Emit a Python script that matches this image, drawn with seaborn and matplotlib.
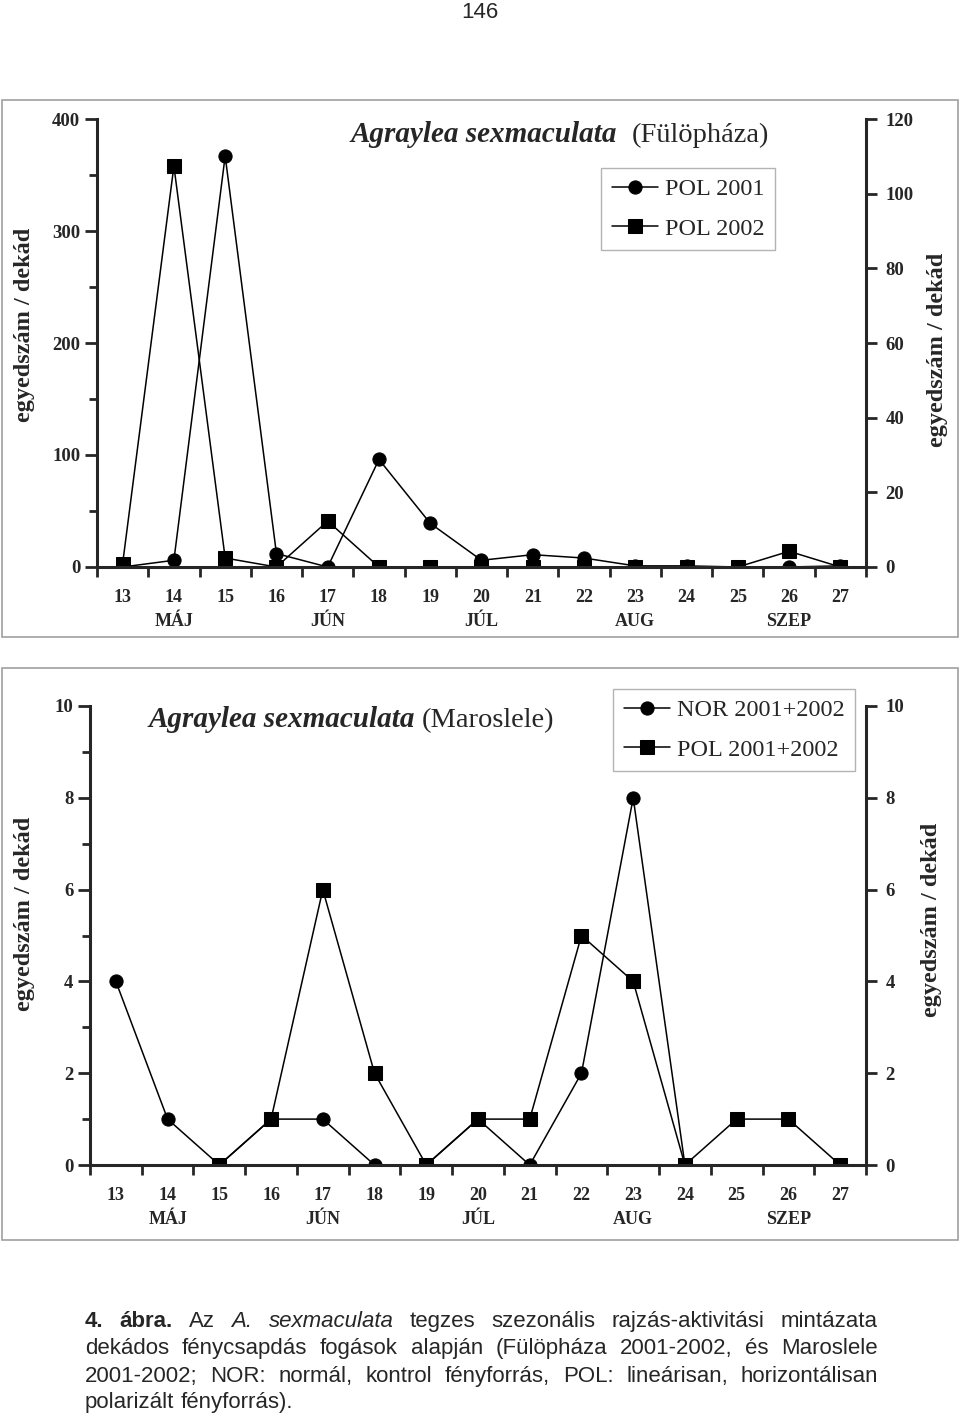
import numpy as np
import pandas as pd
import seaborn as sns
import matplotlib.pyplot as plt
from matplotlib.patches import Rectangle
from matplotlib.ticker import MultipleLocator

sns.set_style('ticks')
plt.rcParams['font.family'] = ['Liberation Serif', 'DejaVu Serif']
plt.rcParams['font.weight'] = 'bold'
plt.rcParams['axes.unicode_minus'] = False

dekad = list(range(13, 28))
honap = {14: 'MÁJ', 17: 'JÚN', 20: 'JÚL', 23: 'AUG', 26: 'SZEP'}

# Fülöpháza, POL csapda
fulop_2001 = [0, 6, 367, 12, 0, 96, 39, 6, 11, 8, 1, 1, 0, 0, 1]
fulop_2002 = [3, 358, 8, 0, 41, 0, 0, 0, 0, 0, 0, 0, 0, 14, 0]

# Maroslele
maros_nor = [4, 1, 0, 1, 1, 0, 0, 1, 0, 2, 8, 0, np.nan, np.nan, np.nan]
maros_pol = [np.nan, np.nan, 0, 1, 6, 2, 0, 1, 1, 5, 4, 0, 1, 1, 0]

W, H = 960, 1416
fig = plt.figure(figsize=(W / 100, H / 100), dpi=100)


def fx(px):
    return px / W


def fy(py):
    return 1 - py / H


def long_df(series):
    parts = []
    for name, vals in series.items():
        parts.append(pd.DataFrame({'dekad': dekad, 'db': vals, 'sorozat': name}))
    return pd.concat(parts, ignore_index=True)


def panel(left, right, bottom, top, df, ymax, ystep, yminor, y2max, y2step,
          legend_xy):
    ax = fig.add_axes([fx(left), fy(bottom), fx(right - left), (bottom - top) / H])
    sns.lineplot(data=df, x='dekad', y='db', style='sorozat', markers=['o', 's'],
                 dashes=False, color='black', linewidth=1.1, markersize=9.5,
                 markeredgecolor='black', errorbar=None, legend=False, ax=ax)
    ax.set_xlim(12.5, 27.5)
    ax.set_ylim(0, ymax)
    ax.set_xlabel('')
    ax.set_ylabel('')

    # kategória-határokon a jelölők, a címkék a dekádok alatt
    ax.set_xticks(np.arange(12.5, 28, 1))
    ax.set_xticks(dekad, minor=True)
    ax.set_xticklabels([f'{d}\n{honap[d]}' if d in honap else str(d) for d in dekad],
                       minor=True)
    for lab in ax.get_xticklabels(minor=True):
        lab.set_linespacing(1.5)
    ax.tick_params(axis='x', which='major', labelbottom=False, direction='out',
                   length=7, width=2)
    ax.tick_params(axis='x', which='minor', length=0, pad=16, labelsize=13)

    ax.set_yticks(np.arange(0, ymax + 1, ystep))
    ax.yaxis.set_minor_locator(MultipleLocator(yminor))
    ax.tick_params(axis='y', which='major', direction='out', length=9, width=2,
                   pad=3, labelsize=13.5)
    ax.tick_params(axis='y', which='minor', direction='out', length=6, width=2)

    for s in ['top', 'right']:
        ax.spines[s].set_visible(False)
    for s in ['left', 'bottom']:
        ax.spines[s].set_linewidth(2.2)

    ax2 = ax.twinx()
    ax2.set_ylim(0, y2max)
    ax2.set_yticks(np.arange(0, y2max + 1, y2step))
    ax2.tick_params(axis='y', direction='out', length=8, width=2, pad=6,
                    labelsize=13.5)
    for s in ['top', 'left', 'bottom']:
        ax2.spines[s].set_visible(False)
    ax2.spines['right'].set_linewidth(2.2)

    labels = df['sorozat'].unique()
    leg = ax2.legend(handles=ax.lines[:2], labels=list(labels), loc='upper right',
                     bbox_to_anchor=(fx(legend_xy[0]), fy(legend_xy[1])),
                     bbox_transform=fig.transFigure, borderaxespad=0,
                     frameon=True, fancybox=False, edgecolor='#a0a0a0',
                     prop={'size': 17.5, 'weight': 'normal'}, handlelength=1.9,
                     handletextpad=0.3, labelspacing=0.72, borderpad=0.42)
    leg.get_frame().set_linewidth(1.0)
    return ax, ax2


df_top = long_df({'POL 2001': fulop_2001, 'POL 2002': fulop_2002})
panel(97, 866, 567, 119, df_top, 400, 100, 50, 120, 20, (775, 168))

df_bot = long_df({'NOR 2001+2002': maros_nor, 'POL 2001+2002': maros_pol})
panel(90, 866, 1165, 706, df_bot, 10, 2, 1, 10, 2, (855, 689))

# címek
fig.text(fx(617), fy(142), 'Agraylea sexmaculata', ha='right', va='baseline',
         fontsize=21, weight='bold', style='italic')
fig.text(fx(632), fy(142), '(Fülöpháza)', ha='left', va='baseline',
         fontsize=20.5, weight='normal')
fig.text(fx(415), fy(727), 'Agraylea sexmaculata', ha='right', va='baseline',
         fontsize=21, weight='bold', style='italic')
fig.text(fx(422), fy(727), '(Maroslele)', ha='left', va='baseline',
         fontsize=20.5, weight='normal')

# tengelyfeliratok
ylab = 'egyedszám / dekád'
fig.text(fx(25), fy(325), ylab, rotation=90, ha='center', va='center', fontsize=17.5)
fig.text(fx(937), fy(350), ylab, rotation=90, ha='center', va='center', fontsize=17.5)
fig.text(fx(25), fy(914), ylab, rotation=90, ha='center', va='center', fontsize=17.5)
fig.text(fx(932), fy(920), ylab, rotation=90, ha='center', va='center', fontsize=17.5)

# keretek
for top, bottom in [(100, 637), (668, 1240)]:
    fig.add_artist(Rectangle((fx(2), fy(bottom)), fx(956), (bottom - top) / H,
                             transform=fig.transFigure, fill=False,
                             edgecolor='#a0a0a0', linewidth=1.2))

# oldalszám
fig.text(0.5, fy(13), '146', ha='center', va='center', fontsize=16,
         family=['Liberation Sans', 'DejaVu Sans'], weight='normal')

# ábraaláírás, sorkizárt
caption = [
    [('4.', 'b'), ('ábra.', 'b'), ('Az', 'n'), ('A.', 'i'), ('sexmaculata', 'i'),
     ('tegzes', 'n'), ('szezonális', 'n'), ('rajzás-aktivitási', 'n'), ('mintázata', 'n')],
    [(w, 'n') for w in 'dekádos fénycsapdás fogások alapján (Fülöpháza 2001-2002, és Maroslele'.split()],
    [(w, 'n') for w in '2001-2002; NOR: normál, kontrol fényforrás, POL: lineárisan, horizontálisan'.split()],
    [(w, 'n') for w in 'polarizált fényforrás).'.split()],
]
baselines = [1327, 1354, 1382, 1408]
x0, x1 = fx(85), fx(878)
renderer = fig.canvas.get_renderer()
for i, (words, base) in enumerate(zip(caption, baselines)):
    texts = []
    for w, st in words:
        texts.append(fig.text(0, fy(base), w, ha='left', va='baseline', fontsize=16,
                              family=['Liberation Sans', 'DejaVu Sans'],
                              weight='bold' if st == 'b' else 'normal',
                              style='italic' if st == 'i' else 'normal'))
    widths = [t.get_window_extent(renderer).width / fig.bbox.width for t in texts]
    if i < len(caption) - 1:
        gap = (x1 - x0 - sum(widths)) / (len(texts) - 1)
    else:
        gap = fx(6)
    x = x0
    for t, w in zip(texts, widths):
        t.set_x(x)
        x += w + gap

fig.savefig('out.png', dpi=100)
